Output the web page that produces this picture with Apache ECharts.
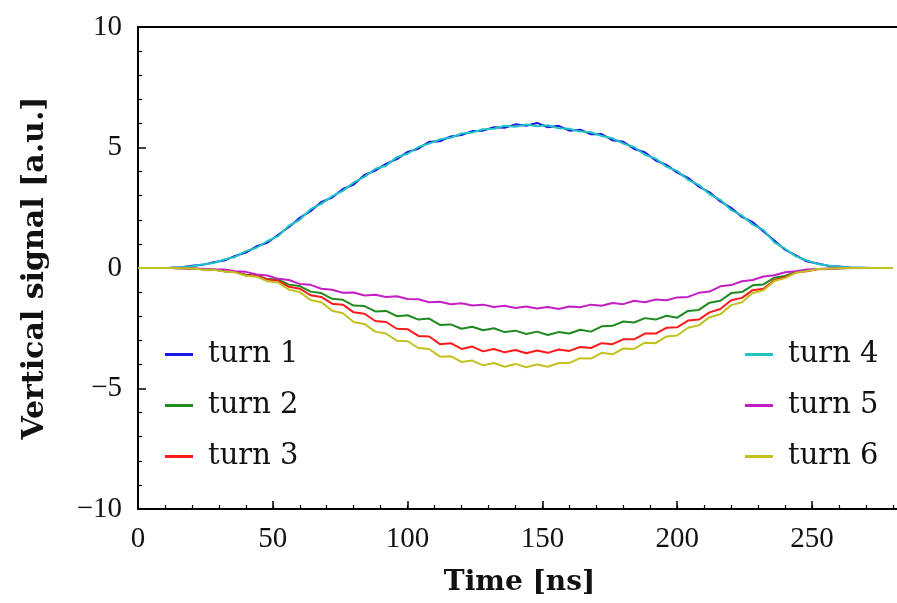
<!DOCTYPE html>
<html>
<head>
<meta charset="utf-8">
<script src="https://cdn.jsdelivr.net/npm/echarts@6/dist/echarts.min.js"></script>
<style>html,body{margin:0;padding:0;background:#fff;}#c{width:897px;height:603px;}</style>
</head>
<body>
<div id="c"></div>
<script>
// Time samples [ns]
const time = [0,4,8,12,16,20,24,28,32,36,40,44,48,52,56,60,64,68,72,76,80,84,88,92,96,100,104,108,112,116,120,124,128,132,136,140,144,148,152,156,160,164,168,172,176,180,184,188,192,196,200,204,208,212,216,220,224,228,232,236,240,244,248,252,256,260,264,268,272,276,280];

const turn1 = [0,0,0,0.01,0.03,0.09,0.13,0.24,0.31,0.5,0.64,0.9,1.05,1.38,1.7,2.08,2.36,2.74,2.92,3.28,3.46,3.86,4.04,4.32,4.52,4.82,4.95,5.24,5.26,5.46,5.52,5.68,5.7,5.84,5.82,5.96,5.9,6.02,5.84,5.9,5.7,5.74,5.55,5.56,5.3,5.24,4.94,4.8,4.46,4.28,3.96,3.74,3.38,3.14,2.76,2.5,2.12,1.9,1.52,1.14,0.76,0.52,0.28,0.19,0.09,0.06,0.02,0.01,0,0,0];
const turn2 = [0,0,0,0,-0.01,-0.02,-0.05,-0.06,-0.13,-0.16,-0.28,-0.31,-0.46,-0.48,-0.69,-0.75,-0.98,-1.04,-1.28,-1.32,-1.56,-1.58,-1.8,-1.78,-2.0,-1.96,-2.14,-2.1,-2.36,-2.34,-2.52,-2.44,-2.58,-2.5,-2.66,-2.6,-2.74,-2.64,-2.78,-2.66,-2.72,-2.56,-2.64,-2.42,-2.4,-2.22,-2.26,-2.08,-2.14,-1.98,-2.06,-1.78,-1.74,-1.44,-1.36,-1.04,-1.0,-0.72,-0.68,-0.4,-0.33,-0.15,-0.11,-0.04,-0.03,-0.01,0,0,0,0,0];
const turn3 = [0,0,0,0,-0.01,-0.02,-0.05,-0.06,-0.14,-0.16,-0.3,-0.32,-0.48,-0.53,-0.78,-0.86,-1.13,-1.2,-1.48,-1.52,-1.84,-1.9,-2.2,-2.24,-2.52,-2.54,-2.82,-2.84,-3.16,-3.12,-3.36,-3.26,-3.46,-3.36,-3.5,-3.4,-3.54,-3.42,-3.52,-3.38,-3.44,-3.28,-3.32,-3.12,-3.16,-2.96,-2.96,-2.72,-2.72,-2.48,-2.46,-2.18,-2.14,-1.84,-1.7,-1.34,-1.24,-0.92,-0.86,-0.5,-0.38,-0.19,-0.14,-0.05,-0.04,-0.01,0,0,0,0,0];
const turn4 = [0,0,0,0.01,0.03,0.07,0.15,0.21,0.35,0.46,0.7,0.84,1.12,1.32,1.76,2.0,2.44,2.66,2.98,3.2,3.55,3.78,4.12,4.24,4.6,4.74,5.02,5.16,5.34,5.4,5.58,5.62,5.76,5.78,5.9,5.86,5.95,5.88,5.92,5.8,5.78,5.66,5.63,5.48,5.38,5.16,5.02,4.7,4.54,4.2,4.03,3.66,3.45,3.06,2.83,2.4,2.18,1.8,1.58,1.06,0.8,0.48,0.32,0.17,0.1,0.05,0.02,0.01,0,0,0];
const turn5 = [0,0,0,0,-0.01,-0.02,-0.03,-0.06,-0.06,-0.13,-0.16,-0.27,-0.31,-0.45,-0.5,-0.66,-0.7,-0.86,-0.9,-1.03,-1.02,-1.14,-1.11,-1.2,-1.17,-1.29,-1.3,-1.42,-1.4,-1.5,-1.46,-1.56,-1.52,-1.62,-1.57,-1.66,-1.6,-1.68,-1.62,-1.7,-1.6,-1.63,-1.52,-1.57,-1.45,-1.5,-1.36,-1.42,-1.31,-1.34,-1.22,-1.2,-1.03,-0.98,-0.76,-0.71,-0.55,-0.5,-0.35,-0.3,-0.18,-0.13,-0.06,-0.04,-0.02,-0.01,0,0,0,0,0];
const turn6 = [0,0,0,0,-0.01,-0.02,-0.06,-0.07,-0.15,-0.18,-0.32,-0.36,-0.55,-0.6,-0.9,-1.0,-1.33,-1.42,-1.77,-1.88,-2.24,-2.32,-2.64,-2.72,-3.02,-3.04,-3.32,-3.36,-3.68,-3.66,-3.9,-3.84,-4.04,-3.94,-4.1,-3.98,-4.12,-4.0,-4.1,-3.94,-3.94,-3.74,-3.76,-3.52,-3.58,-3.34,-3.36,-3.1,-3.12,-2.84,-2.8,-2.48,-2.38,-2.04,-1.92,-1.54,-1.42,-1.04,-0.92,-0.54,-0.42,-0.2,-0.13,-0.04,-0.03,-0.01,0,0,0,0,0];

const seriesNames = ['turn 1','turn 2','turn 3','turn 4','turn 5','turn 6'];
const seriesValues = [turn1, turn2, turn3, turn4, turn5, turn6];
const seriesColors = ['#1a1ae6','#1f8a1f','#ff1a1a','#22c3c3','#c41fc4','#c2c21f'];
const xTickLabels = [0,50,100,150,200,250];
const yTickLabels = [-10,-5,0,5,10];

const FONT = '"Liberation Serif", "DejaVu Serif", serif';
const FONT_WIDE = '"DejaVu Serif", "Liberation Serif", serif';
const chart = echarts.init(document.getElementById('c'), null, {renderer:'canvas'});

const series = seriesNames.map((n, k) => ({
  name: n,
  type: 'line',
  xAxisIndex: 0,
  yAxisIndex: 0,
  showSymbol: false,
  symbol: 'none',
  data: time.map((t, i) => [t, seriesValues[k][i]]),
  lineStyle: {color: seriesColors[k], width: 2},
  itemStyle: {color: seriesColors[k]},
  animation: false
}));

const legendText = {fontFamily: FONT_WIDE, fontSize: 29, color: '#111', padding: [0,0,0,10]};

chart.setOption({
  animation: false,
  backgroundColor: '#fff',
  grid: {left: 138, top: 27, width: 763, height: 482, outerBoundsMode: 'none', containLabel: false, show: false},
  legend: [
    {data: seriesNames.slice(0,3), orient: 'vertical', left: 160, top: 335, itemGap: 22, icon: 'rect', itemWidth: 28, itemHeight: 3, textStyle: legendText},
    {data: seriesNames.slice(3,6), orient: 'vertical', left: 740, top: 335, itemGap: 22, icon: 'rect', itemWidth: 28, itemHeight: 3, textStyle: legendText}
  ],
  xAxis: [
    {type: 'value', min: 0, max: 283, interval: 50, position: 'bottom',
     name: 'Time [ns]', nameLocation: 'middle', nameGap: 60,
     nameTextStyle: {fontFamily: FONT_WIDE, fontSize: 28, fontWeight: 'bold', color: '#111'},
     axisLine: {show: true, onZero: false, lineStyle: {color: '#000', width: 2}},
     axisTick: {show: true, inside: true, length: 8, lineStyle: {color: '#000', width: 1.5}},
     axisLabel: {show: true, margin: 16, fontFamily: FONT, fontSize: 29, color: '#111', showMaxLabel: false,
       formatter: v => xTickLabels.indexOf(v) >= 0 ? String(v) : ''},
     splitLine: {show: false}},
    {type: 'value', min: 0, max: 283, interval: 10, position: 'bottom', gridIndex: 0,
     axisLine: {show: false, onZero: false},
     axisTick: {show: true, inside: true, length: 4, lineStyle: {color: '#000', width: 1.2}},
     axisLabel: {show: false}, splitLine: {show: false}},
    {type: 'value', min: 0, max: 283, position: 'top', gridIndex: 0,
     axisLine: {show: true, onZero: false, lineStyle: {color: '#000', width: 2}},
     axisTick: {show: false}, axisLabel: {show: false}, splitLine: {show: false}}
  ],
  yAxis: [
    {type: 'value', min: -10, max: 10, interval: 5,
     name: 'Vertical signal [a.u.]', nameLocation: 'middle', nameGap: 88,
     nameTextStyle: {fontFamily: FONT_WIDE, fontSize: 30, fontWeight: 'bold', color: '#111'},
     axisLine: {show: true, onZero: false, lineStyle: {color: '#000', width: 2}},
     axisTick: {show: true, inside: true, length: 8, lineStyle: {color: '#000', width: 1.5}},
     minorTick: {show: true, splitNumber: 5, length: 4, lineStyle: {color: '#000', width: 1.2}},
     axisLabel: {show: true, margin: 16, fontFamily: FONT, fontSize: 29, color: '#111',
       formatter: v => yTickLabels.indexOf(v) >= 0 ? (v < 0 ? '\u2212' + Math.abs(v) : String(v)) : ''},
     splitLine: {show: false}}
  ],
  series: series
});
</script>
</body>
</html>
